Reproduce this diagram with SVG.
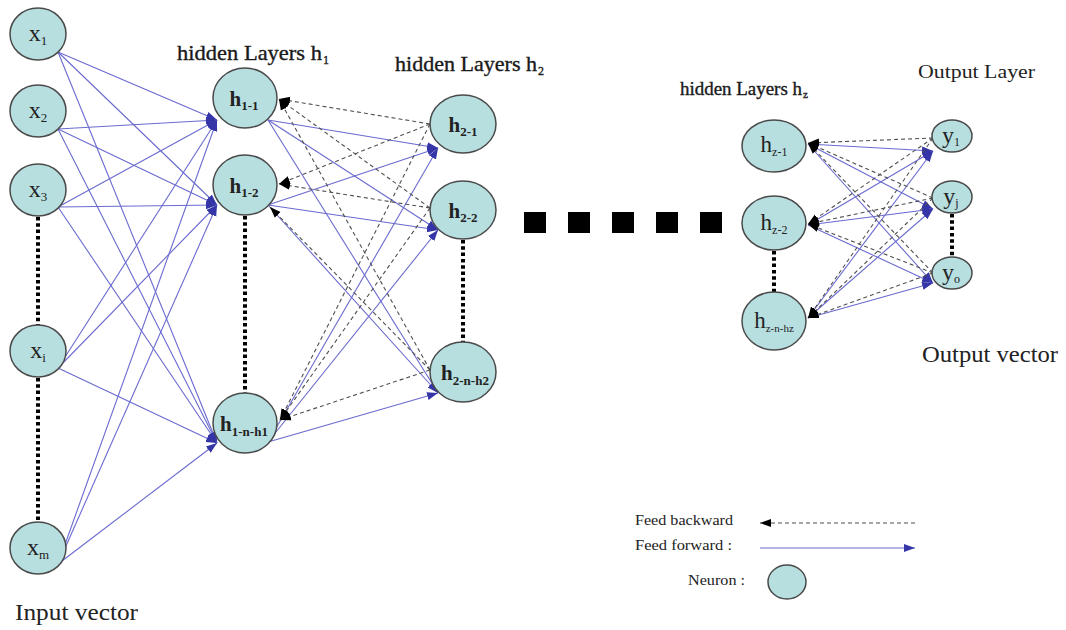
<svg xmlns="http://www.w3.org/2000/svg" width="1066" height="630" viewBox="0 0 1066 630">
<style>
.n{fill:#b8dfe0;stroke:#4a4a4a;stroke-width:1.5}
.t{font-family:"Liberation Serif",serif;fill:#222}
.hl{font-family:"Liberation Serif",serif;fill:#1a1a1a;stroke:#1a1a1a;stroke-width:0.35}
.lbl{font-family:"Liberation Serif",serif;font-weight:bold;fill:#222}
.f{stroke:#6a6ad0;stroke-width:1.1;fill:none;marker-end:url(#af)}
.b{stroke:#505050;stroke-width:1.1;stroke-dasharray:4 3;fill:none;marker-end:url(#ab)}
.d{stroke:#000;stroke-width:4;stroke-dasharray:3.5 2.8;fill:none}
</style>
<defs>
<marker id="af" markerUnits="userSpaceOnUse" markerWidth="12" markerHeight="10" viewBox="0 0 12 10" refX="11" refY="5" orient="auto"><path d="M0,1 L11,5 L0,9 Z" fill="#3535a8"/></marker>
<marker id="ab" markerUnits="userSpaceOnUse" markerWidth="12" markerHeight="10" viewBox="0 0 12 10" refX="11" refY="5" orient="auto"><path d="M0,1 L11,5 L0,9 Z" fill="#000"/></marker>
</defs>
<rect width="1066" height="630" fill="#fff"/>

<g id="labels">
<text class="hl" x="177" y="60" font-size="21" textLength="145" lengthAdjust="spacingAndGlyphs">hidden Layers h</text>
<text class="hl" x="323" y="64" font-size="12">1</text>
<text class="hl" x="395" y="71" font-size="21" textLength="142" lengthAdjust="spacingAndGlyphs">hidden Layers h</text>
<text class="hl" x="538" y="75" font-size="12">2</text>
<text class="hl" x="680" y="95" font-size="18" textLength="122" lengthAdjust="spacingAndGlyphs">hidden Layers h</text>
<text class="hl" x="803" y="98" font-size="11">z</text>
<text class="t" x="918" y="78" font-size="18" textLength="117" lengthAdjust="spacingAndGlyphs">Output Layer</text>
<text class="t" x="922" y="362" font-size="24" textLength="136" lengthAdjust="spacingAndGlyphs">Output vector</text>
<text class="t" x="15" y="620" font-size="24" textLength="123" lengthAdjust="spacingAndGlyphs">Input vector</text>
</g>

<g id="connectors">
<line class="d" x1="38" y1="217" x2="38" y2="325"/>
<line class="d" x1="38" y1="378" x2="38" y2="522"/>
<line class="d" x1="245" y1="216" x2="245" y2="393"/>
<line class="d" x1="463" y1="240" x2="463" y2="342"/>
<line class="d" x1="774" y1="251" x2="774" y2="292"/>
<line class="d" x1="952" y1="214" x2="952" y2="257"/>
<line class="f" x1="58" y1="52" x2="217" y2="120"/>
<line class="f" x1="58" y1="52" x2="217" y2="205"/>
<line class="f" x1="58" y1="52" x2="217" y2="443"/>
<line class="f" x1="58" y1="129" x2="217" y2="120"/>
<line class="f" x1="58" y1="129" x2="217" y2="205"/>
<line class="f" x1="58" y1="129" x2="217" y2="443"/>
<line class="f" x1="58" y1="207" x2="217" y2="120"/>
<line class="f" x1="58" y1="207" x2="217" y2="205"/>
<line class="f" x1="58" y1="207" x2="217" y2="443"/>
<line class="f" x1="58" y1="368" x2="217" y2="120"/>
<line class="f" x1="58" y1="368" x2="217" y2="205"/>
<line class="f" x1="58" y1="368" x2="217" y2="443"/>
<line class="f" x1="58" y1="564" x2="217" y2="120"/>
<line class="f" x1="58" y1="564" x2="217" y2="205"/>
<line class="f" x1="58" y1="564" x2="217" y2="443"/>
<line class="f" x1="268" y1="120" x2="438" y2="148"/>
<line class="f" x1="268" y1="120" x2="438" y2="230"/>
<line class="f" x1="268" y1="120" x2="438" y2="393"/>
<line class="f" x1="268" y1="205" x2="438" y2="148"/>
<line class="f" x1="268" y1="205" x2="438" y2="230"/>
<line class="f" x1="268" y1="205" x2="438" y2="393"/>
<line class="f" x1="268" y1="442" x2="438" y2="148"/>
<line class="f" x1="268" y1="442" x2="438" y2="230"/>
<line class="f" x1="268" y1="442" x2="438" y2="393"/>
<line class="b" x1="430" y1="124" x2="279" y2="99"/>
<line class="b" x1="430" y1="124" x2="279" y2="184"/>
<line class="b" x1="430" y1="124" x2="280" y2="420"/>
<line class="b" x1="430" y1="208" x2="279" y2="99"/>
<line class="b" x1="430" y1="208" x2="279" y2="184"/>
<line class="b" x1="430" y1="208" x2="280" y2="420"/>
<line class="b" x1="430" y1="370" x2="279" y2="99"/>
<line class="b" x1="430" y1="370" x2="270" y2="207"/>
<line class="b" x1="430" y1="370" x2="280" y2="420"/>
<line class="f" x1="808" y1="144" x2="933" y2="151"/>
<line class="f" x1="808" y1="144" x2="933" y2="209"/>
<line class="f" x1="808" y1="144" x2="933" y2="283"/>
<line class="f" x1="808" y1="225" x2="933" y2="151"/>
<line class="f" x1="808" y1="225" x2="933" y2="209"/>
<line class="f" x1="808" y1="225" x2="933" y2="283"/>
<line class="f" x1="808" y1="318" x2="933" y2="151"/>
<line class="f" x1="808" y1="318" x2="933" y2="209"/>
<line class="f" x1="808" y1="318" x2="933" y2="283"/>
<line class="b" x1="933" y1="138" x2="808" y2="143"/>
<line class="b" x1="933" y1="138" x2="808" y2="224"/>
<line class="b" x1="933" y1="138" x2="808" y2="318"/>
<line class="b" x1="933" y1="198" x2="808" y2="143"/>
<line class="b" x1="933" y1="198" x2="808" y2="224"/>
<line class="b" x1="933" y1="198" x2="808" y2="318"/>
<line class="b" x1="933" y1="273" x2="808" y2="143"/>
<line class="b" x1="933" y1="273" x2="808" y2="224"/>
<line class="b" x1="933" y1="273" x2="808" y2="318"/>
</g>

<g id="ellipsis">
<rect x="524" y="212" width="22" height="21" fill="#000"/>
<rect x="568" y="212" width="22" height="21" fill="#000"/>
<rect x="612" y="212" width="22" height="21" fill="#000"/>
<rect x="656" y="212" width="22" height="21" fill="#000"/>
<rect x="700" y="212" width="22" height="21" fill="#000"/>
</g>

<g id="x1"><ellipse class="n" cx="38" cy="34" rx="28" ry="26"/><text class="t" x="38" y="41" font-size="24" text-anchor="middle">x<tspan dy="4" font-size="13">1</tspan></text></g>
<g id="x2"><ellipse class="n" cx="38" cy="111" rx="28" ry="26"/><text class="t" x="38" y="118" font-size="24" text-anchor="middle">x<tspan dy="4" font-size="13">2</tspan></text></g>
<g id="x3"><ellipse class="n" cx="38" cy="190" rx="28" ry="26"/><text class="t" x="38" y="197" font-size="24" text-anchor="middle">x<tspan dy="4" font-size="13">3</tspan></text></g>
<g id="xi"><ellipse class="n" cx="38" cy="351" rx="28" ry="26"/><text class="t" x="38" y="358" font-size="24" text-anchor="middle">x<tspan dy="4" font-size="13">i</tspan></text></g>
<g id="xm"><ellipse class="n" cx="38" cy="548" rx="28" ry="26"/><text class="t" x="38" y="555" font-size="24" text-anchor="middle">x<tspan dy="4" font-size="13">m</tspan></text></g>

<g id="h1-1"><ellipse class="n" cx="245" cy="98" rx="32" ry="30"/><text class="lbl" x="244" y="106" font-size="21" text-anchor="middle">h<tspan dy="4" font-size="13">1-1</tspan></text></g>
<g id="h1-2"><ellipse class="n" cx="245" cy="185" rx="32" ry="30"/><text class="lbl" x="244" y="193" font-size="21" text-anchor="middle">h<tspan dy="4" font-size="13">1-2</tspan></text></g>
<g id="h1-n-h1"><ellipse class="n" cx="245" cy="423" rx="32" ry="30"/><text class="lbl" x="244" y="431" font-size="21" text-anchor="middle">h<tspan dy="5" font-size="13">1-n-h1</tspan></text></g>

<g id="h2-1"><ellipse class="n" cx="463" cy="124" rx="33" ry="29"/><text class="lbl" x="463" y="132" font-size="21" text-anchor="middle">h<tspan dy="4" font-size="13">2-1</tspan></text></g>
<g id="h2-2"><ellipse class="n" cx="463" cy="210" rx="33" ry="29"/><text class="lbl" x="463" y="218" font-size="21" text-anchor="middle">h<tspan dy="4" font-size="13">2-2</tspan></text></g>
<g id="h2-n-h2"><ellipse class="n" cx="463" cy="372" rx="33" ry="30"/><text class="lbl" x="465" y="380" font-size="21" text-anchor="middle">h<tspan dy="5" font-size="13">2-n-h2</tspan></text></g>

<g id="hz-1"><ellipse class="n" cx="774" cy="146" rx="32" ry="26"/><text class="t" x="774" y="152" font-size="23" text-anchor="middle">h<tspan dy="4" font-size="12">z-1</tspan></text></g>
<g id="hz-2"><ellipse class="n" cx="774" cy="223" rx="32" ry="27"/><text class="t" x="774" y="230" font-size="23" text-anchor="middle">h<tspan dy="4" font-size="12">z-2</tspan></text></g>
<g id="hz-n-hz"><ellipse class="n" cx="774" cy="321" rx="32" ry="29"/><text class="t" x="774" y="328" font-size="23" text-anchor="middle">h<tspan dy="4" font-size="11">z-n-hz</tspan></text></g>

<g id="y1"><ellipse class="n" cx="952" cy="136" rx="20" ry="16"/><text class="t" x="951" y="143" font-size="24" text-anchor="middle">y<tspan dy="3" font-size="12">1</tspan></text></g>
<g id="yj"><ellipse class="n" cx="952" cy="197" rx="20" ry="16"/><text class="t" x="951" y="204" font-size="24" text-anchor="middle">y<tspan dy="3" font-size="12">j</tspan></text></g>
<g id="yo"><ellipse class="n" cx="952" cy="273" rx="20" ry="16"/><text class="t" x="951" y="280" font-size="24" text-anchor="middle">y<tspan dy="3" font-size="12">o</tspan></text></g>

<g id="legend">
<text class="t" x="635" y="525" font-size="14" textLength="98" lengthAdjust="spacingAndGlyphs">Feed backward</text>
<line class="b" x1="915" y1="523" x2="760" y2="523"/>
<text class="t" x="635" y="550" font-size="14" textLength="97" lengthAdjust="spacingAndGlyphs">Feed forward  :</text>
<line class="f" x1="760" y1="548" x2="915" y2="548"/>
<text class="t" x="688" y="585" font-size="14" textLength="57" lengthAdjust="spacingAndGlyphs">Neuron :</text>
<ellipse class="n" cx="787" cy="582" rx="19" ry="17"/>
</g>
</svg>
